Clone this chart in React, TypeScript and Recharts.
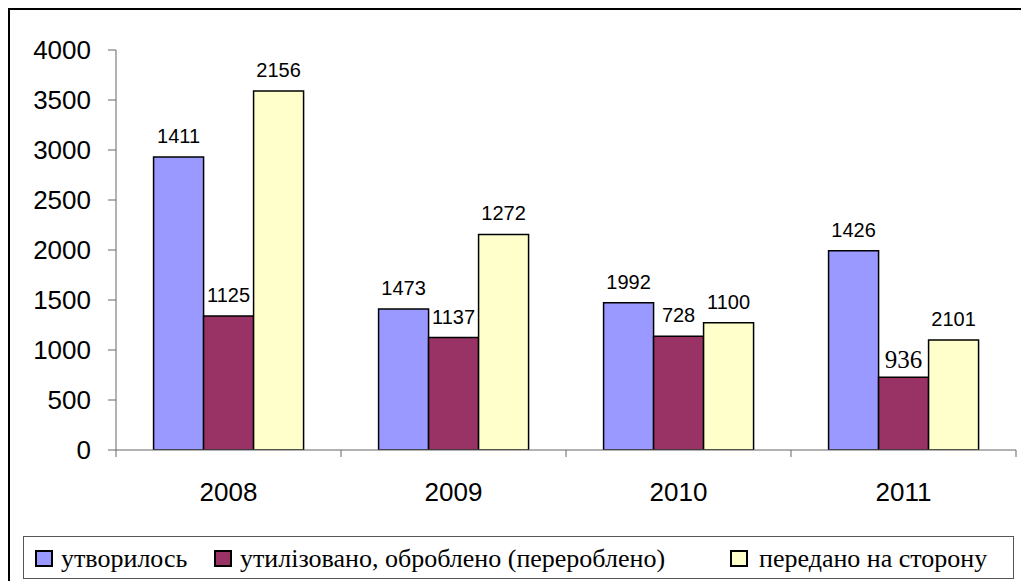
import React from "react";
import { BarChart, Bar, XAxis, YAxis, LabelList } from "recharts";

// bar heights as drawn in the picture
const YEARS = ["2008", "2009", "2010", "2011"];
const FORMED = [2930, 1411, 1473, 1992];
const UTILISED = [1340, 1125, 1137, 728];
const TRANSFERRED = [3590, 2156, 1272, 1100];

// numbers written above the bars
const FORMED_LABELS = [1411, 1473, 1992, 1426];
const UTILISED_LABELS = [1125, 1137, 728, 936];
const TRANSFERRED_LABELS = [2156, 1272, 1100, 2101];

const Y_TICKS = [0, 500, 1000, 1500, 2000, 2500, 3000, 3500, 4000];

const SERIES = [
  { key: "formed", labelKey: "formedLabel", name: "утворилось", color: "#9999FF" },
  { key: "utilised", labelKey: "utilisedLabel", name: "утилізовано, оброблено (перероблено)", color: "#993366" },
  { key: "transferred", labelKey: "transferredLabel", name: "передано на сторону", color: "#FFFFCC" },
];

const data = YEARS.map((year, i) => ({
  year,
  formed: FORMED[i],
  utilised: UTILISED[i],
  transferred: TRANSFERRED[i],
  formedLabel: FORMED_LABELS[i],
  utilisedLabel: UTILISED_LABELS[i],
  transferredLabel: TRANSFERRED_LABELS[i],
}));

const SANS = "'Liberation Sans', Arial, sans-serif";
const SERIF = "'Liberation Serif', 'DejaVu Serif', serif";

const renderLabel = (serifIndex: number) => (props: any) => {
  const { x, y, width, value, index } = props;
  const serif = index === serifIndex;
  return (
    <text
      x={Number(x) + Number(width) / 2}
      y={Number(y) - (serif ? 18 : 21)}
      textAnchor="middle"
      dominantBaseline="central"
      fontFamily={serif ? SERIF : SANS}
      fontSize={serif ? 25 : 20}
      fill="#000"
    >
      {value}
    </text>
  );
};

const YearTick = (props: any) => {
  const { x, y, payload, index } = props;
  const half = payload?.offset ?? 112.5;
  return (
    <g>
      <line x1={x - half} y1={y} x2={x - half} y2={y + 7} stroke="#666" />
      {index === YEARS.length - 1 && (
        <line x1={x + half} y1={y} x2={x + half} y2={y + 7} stroke="#666" />
      )}
      <text
        x={x}
        y={y + 42}
        textAnchor="middle"
        dominantBaseline="central"
        fontFamily={SANS}
        fontSize={26}
        fill="#000"
      >
        {payload.value}
      </text>
    </g>
  );
};

const LEGEND_LEFT = [11, 190, 706];
const LEGEND_GAP = [8, 8, 11];

const App: React.FC = () => {
  return (
    <>
      <div
        style={{
          position: "fixed",
          left: 8,
          top: 8,
          width: 1013,
          height: 573,
          boxSizing: "border-box",
          borderLeft: "2px solid #000",
          borderTop: "2px solid #000",
          background: "#fff",
        }}
      />
      <div style={{ position: "fixed", left: 8, top: 8 }}>
        <BarChart
          width={1013}
          height={573}
          data={data}
          margin={{ top: 42, right: 5, bottom: 101, left: 0 }}
          barCategoryGap="16.7%"
          barGap={0}
        >
          <XAxis
            dataKey="year"
            axisLine={{ stroke: "#666" }}
            tickLine={false}
            tickSize={0}
            tickMargin={0}
            height={30}
            tick={<YearTick />}
            interval={0}
          />
          <YAxis
            domain={[0, 4000]}
            ticks={Y_TICKS}
            width={108}
            axisLine={{ stroke: "#666" }}
            tickLine={{ stroke: "#666" }}
            tickSize={8}
            tickMargin={17}
            tick={{ fill: "#000", fontSize: 26, fontFamily: SANS }}
            allowDataOverflow
          />
          {SERIES.map((s, si) => (
            <Bar
              key={s.key}
              dataKey={s.key}
              name={s.name}
              fill={s.color}
              stroke="#000"
              strokeWidth={1.5}
              isAnimationActive={false}
            >
              <LabelList dataKey={s.labelKey} content={renderLabel(si === 1 ? 3 : -1)} />
            </Bar>
          ))}
        </BarChart>
      </div>
      <div
        style={{
          position: "fixed",
          left: 23,
          top: 536,
          width: 991,
          height: 43,
          boxSizing: "border-box",
          border: "1px solid #555",
          background: "#fff",
          fontFamily: SERIF,
          fontSize: 26,
          color: "#000",
        }}
      >
        {SERIES.map((s, i) => (
          <div
            key={s.key}
            style={{
              position: "absolute",
              left: LEGEND_LEFT[i],
              top: 0,
              height: 43,
              display: "flex",
              alignItems: "center",
              whiteSpace: "nowrap",
            }}
          >
            <span
              style={{
                display: "inline-block",
                width: 18,
                height: 17,
                boxSizing: "border-box",
                border: "2px solid #000",
                background: s.color,
                marginRight: LEGEND_GAP[i],
              }}
            />
            <span>{s.name}</span>
          </div>
        ))}
      </div>
    </>
  );
};

export default App;
